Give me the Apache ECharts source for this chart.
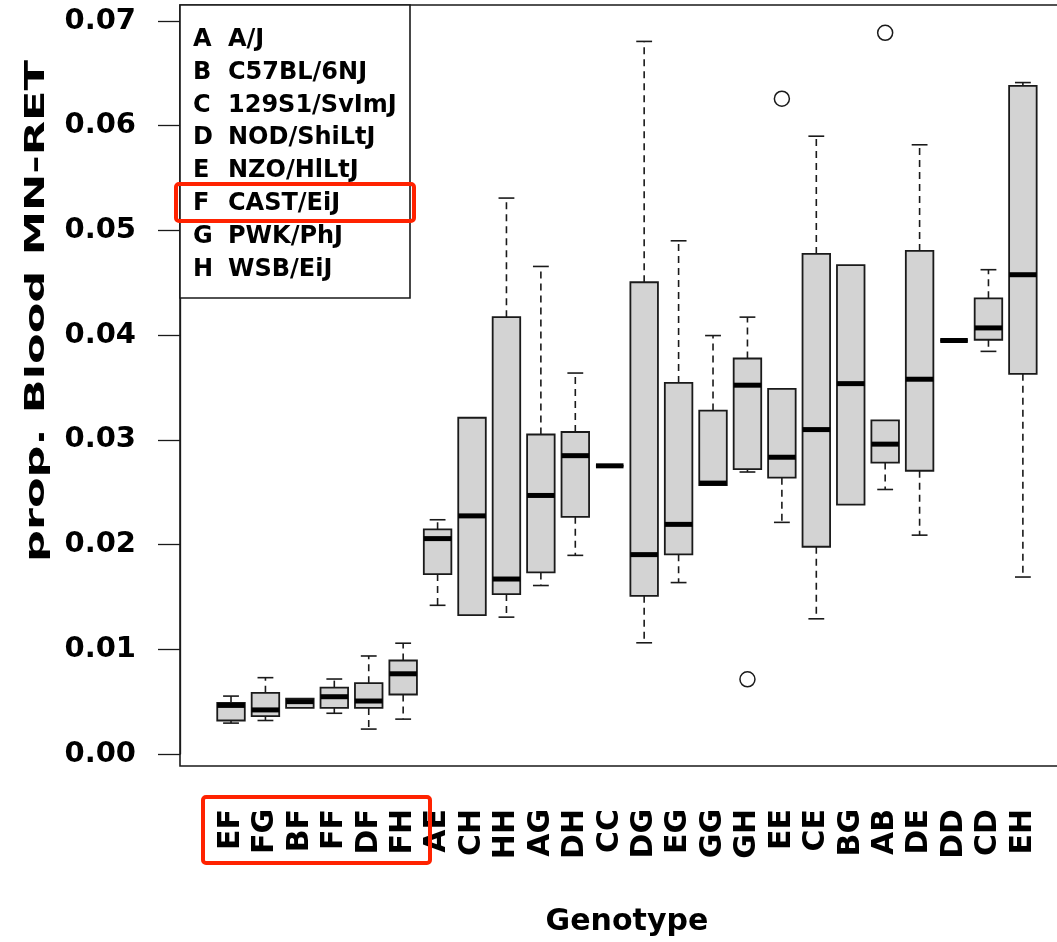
<!DOCTYPE html>
<html>
<head>
<meta charset="utf-8">
<script src="https://cdn.jsdelivr.net/npm/echarts@6/dist/echarts.min.js"></script>
<style>
  html, body { margin: 0; padding: 0; background: #fff; }
  #main { width: 1057px; height: 942px; }
</style>
</head>
<body>
<div id="main"></div>
<script>
// genotype groups, in plotting order
var categories = ['EF', 'FG', 'BF', 'FF', 'DF', 'FH', 'AE', 'CH', 'HH', 'AG', 'DH', 'CC',
                  'DG', 'EG', 'GG', 'GH', 'EE', 'CE', 'BG', 'AB', 'DE', 'DD', 'CD', 'EH'];
// five-number summaries
var whiskerLow = [0.00295, 0.00320, 0.00440, 0.00389, 0.00238, 0.00333, 0.01420, 0.01326,
                  0.01307, 0.01609, 0.01897, 0.02752, 0.01062, 0.01637, 0.02567, 0.02693,
                  0.02212, 0.01291, 0.02382, 0.02526, 0.02090, 0.03949, 0.03845, 0.01690];
var lowerQuart = [0.00320, 0.00361, 0.00440, 0.00440, 0.00440, 0.00568, 0.01718, 0.01326,
                  0.01527, 0.01734, 0.02265, 0.02752, 0.01511, 0.01907, 0.02567, 0.02721,
                  0.02639, 0.01979, 0.02382, 0.02783, 0.02705, 0.03949, 0.03956, 0.03631];
var medians    = [0.00464, 0.00421, 0.00500, 0.00547, 0.00506, 0.00766, 0.02057, 0.02274,
                  0.01671, 0.02469, 0.02849, 0.02752, 0.01904, 0.02193, 0.02587, 0.03522,
                  0.02834, 0.03098, 0.03537, 0.02959, 0.03579, 0.03949, 0.04069, 0.04577];
var upperQuart = [0.00487, 0.00584, 0.00528, 0.00634, 0.00676, 0.00893, 0.02146, 0.03211,
                  0.04172, 0.03051, 0.03075, 0.02752, 0.04505, 0.03544, 0.03280, 0.03777,
                  0.03487, 0.04776, 0.04668, 0.03186, 0.04804, 0.03949, 0.04352, 0.06381];
var whiskerHigh = [0.00553, 0.00729, 0.00528, 0.00716, 0.00936, 0.01058, 0.02237, 0.03211,
                   0.05309, 0.04656, 0.03638, 0.02752, 0.06805, 0.04901, 0.03996, 0.04172,
                   0.03487, 0.05900, 0.04668, 0.03186, 0.05818, 0.03949, 0.04625, 0.06412];
// outliers
var outlierCats = ['GH', 'EE', 'AB'];
var outlierVals = [0.00713, 0.06258, 0.06887];
// y ticks
var yTicks = [0, 0.01, 0.02, 0.03, 0.04, 0.05, 0.06, 0.07];
// strain key
var strainCodes = ['A', 'B', 'C', 'D', 'E', 'F', 'G', 'H'];
var strainNames = ['A/J', 'C57BL/6NJ', '129S1/SvImJ', 'NOD/ShiLtJ', 'NZO/HlLtJ', 'CAST/EiJ', 'PWK/PhJ', 'WSB/EiJ'];

var FONT = '"DejaVu Sans", sans-serif';
var INK = '#1a1a1a';

var myChart = echarts.init(document.getElementById('main'));

var boxRows = categories.map(function (c, i) {
    return [i, whiskerLow[i], lowerQuart[i], medians[i], upperQuart[i], whiskerHigh[i]];
});

function renderBox(params, api) {
    var i = api.value(0);
    var lo = api.coord([i, api.value(1)]);
    var q1 = api.coord([i, api.value(2)]);
    var md = api.coord([i, api.value(3)]);
    var q3 = api.coord([i, api.value(4)]);
    var hi = api.coord([i, api.value(5)]);
    var band = api.size([1, 0])[0];
    var half = band * 0.4;
    var stap = band * 0.23;
    var x = md[0];
    var dash = { stroke: INK, lineWidth: 1.6, lineDash: [7, 5] };
    var solid = { stroke: INK, lineWidth: 1.6 };
    var kids = [];
    if (hi[1] < q3[1] - 0.5) {
        kids.push({ type: 'line', shape: { x1: x, y1: q3[1], x2: x, y2: hi[1] }, style: dash });
        kids.push({ type: 'line', shape: { x1: x - stap, y1: hi[1], x2: x + stap, y2: hi[1] }, style: solid });
    }
    if (lo[1] > q1[1] + 0.5) {
        kids.push({ type: 'line', shape: { x1: x, y1: q1[1], x2: x, y2: lo[1] }, style: dash });
        kids.push({ type: 'line', shape: { x1: x - stap, y1: lo[1], x2: x + stap, y2: lo[1] }, style: solid });
    }
    kids.push({
        type: 'rect',
        shape: { x: x - half, y: q3[1], width: half * 2, height: q1[1] - q3[1] },
        style: { fill: '#d3d3d3', stroke: INK, lineWidth: 1.8 }
    });
    kids.push({
        type: 'line',
        shape: { x1: x - half, y1: md[1], x2: x + half, y2: md[1] },
        style: { stroke: '#000', lineWidth: 5 }
    });
    return { type: 'group', children: kids };
}

var graphics = [
    // plot frame
    { type: 'rect', shape: { x: 180, y: 5, width: 900, height: 761 },
      style: { fill: 'none', stroke: INK, lineWidth: 1.6 }, z: 10 },
    // key box
    { type: 'rect', shape: { x: 180, y: 5, width: 230, height: 293 },
      style: { fill: '#fff', stroke: INK, lineWidth: 1.6 }, z: 10 },
    // y axis title
    { type: 'text', x: 37, y: 311, rotation: Math.PI / 2, scaleX: 1.65,
      style: { text: 'prop. Blood MN-RET', font: 'bold 27px ' + FONT, fill: '#000',
               align: 'center', verticalAlign: 'middle' }, z: 10 },
    // red highlight boxes
    { type: 'rect', shape: { x: 176, y: 184, width: 238, height: 37, r: 3 },
      style: { fill: 'none', stroke: '#ff2200', lineWidth: 4 }, z: 12 },
    { type: 'rect', shape: { x: 203, y: 797, width: 227, height: 66, r: 3 },
      style: { fill: 'none', stroke: '#ff2200', lineWidth: 4 }, z: 12 }
];
strainCodes.forEach(function (c, k) {
    var y = 39.5 + k * 32.9;
    graphics.push({ type: 'text', x: 193, y: y, z: 11,
        style: { text: c, font: 'bold 24px ' + FONT, fill: '#000', verticalAlign: 'middle' } });
    graphics.push({ type: 'text', x: 228, y: y, z: 11,
        style: { text: strainNames[k], font: 'bold 24px ' + FONT, fill: '#000', verticalAlign: 'middle' } });
});

option = {
    animation: false,
    backgroundColor: '#fff',
    grid: { left: 213.8, top: 21, width: 826.3, height: 743 },
    xAxis: {
        type: 'category',
        data: categories,
        offset: 2,
        axisLine: { show: false },
        axisTick: { alignWithLabel: true, length: 23, lineStyle: { color: INK, width: 1.3 } },
        axisLabel: { rotate: 90, margin: 53, interval: 0, fontSize: 30, fontWeight: 'bold', fontFamily: FONT, color: '#000' },
        name: 'Genotype',
        nameLocation: 'middle',
        nameGap: 151,
        nameTextStyle: { fontSize: 30, fontWeight: 'bold', fontFamily: FONT, color: '#000' }
    },
    yAxis: {
        type: 'value',
        min: yTicks[0],
        max: yTicks[yTicks.length - 1],
        interval: 0.01,
        offset: 33.8,
        splitLine: { show: false },
        axisLine: { show: true, lineStyle: { color: INK, width: 1.3 } },
        axisTick: { show: true, length: 22, lineStyle: { color: INK, width: 1.3 } },
        axisLabel: {
            margin: 44, fontSize: 29, fontWeight: 'bold', fontFamily: FONT, color: '#000',
            formatter: function (v) { return v.toFixed(2); }
        }
    },
    graphic: graphics,
    series: [
        {
            type: 'custom',
            renderItem: renderBox,
            data: boxRows,
            encode: { x: 0, y: [1, 2, 3, 4, 5] }
        },
        {
            type: 'scatter',
            symbol: 'circle',
            symbolSize: 15,
            z: 5,
            itemStyle: { color: '#fff', borderColor: INK, borderWidth: 1.5, opacity: 1 },
            data: outlierCats.map(function (c, k) { return [c, outlierVals[k]]; })
        }
    ]
};
myChart.setOption(option);
</script>
</body>
</html>
